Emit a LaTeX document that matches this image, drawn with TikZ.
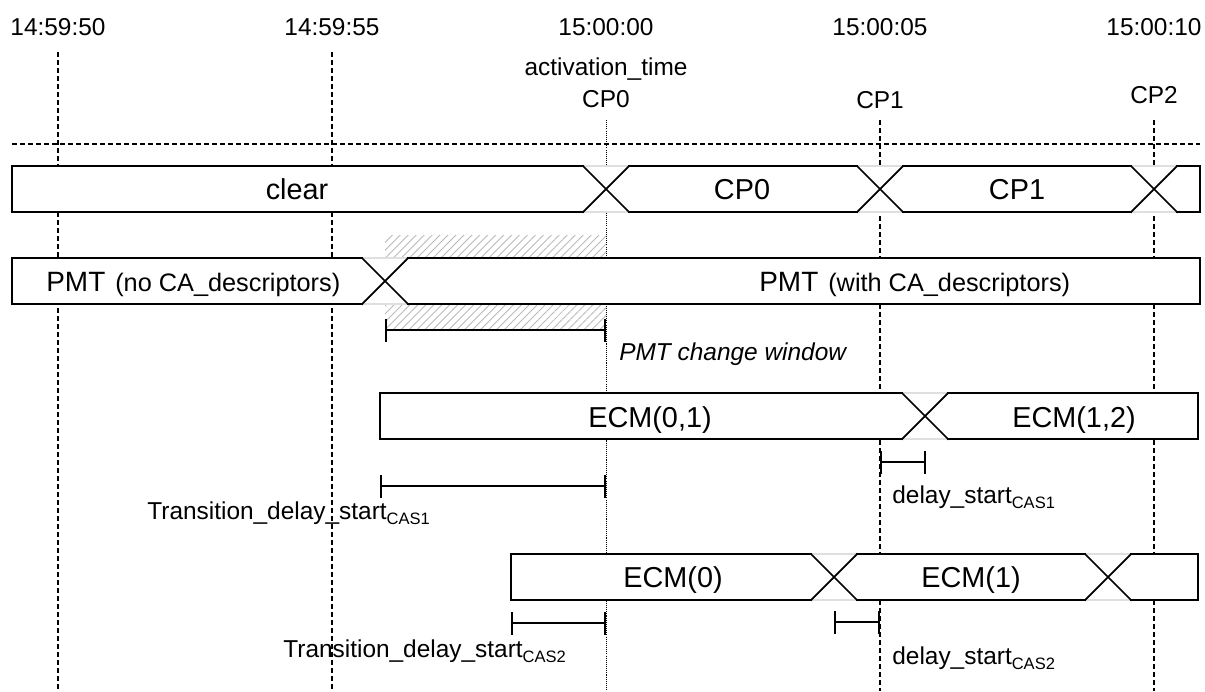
\documentclass[tikz,border=0pt]{standalone}
\usepackage{fontspec}
\setmainfont{Liberation Sans}
\usetikzlibrary{arrows.meta, patterns.meta}
\definecolor{hatch}{RGB}{185,185,185}

\tikzset{
  sig/.style={line width=1pt, line cap=rect},
  vgrid/.style={line width=0.6pt, dash pattern=on 0.1cm off 0.06cm},
  vdot/.style={line width=0.4pt, dash pattern=on 0.6pt off 0.6pt},
  lbl/.style={font=\fontsize{13.9}{16}\selectfont, inner sep=0pt},
  rowlbl/.style={font=\fontsize{16.4}{19}\selectfont, inner sep=0pt, anchor=base},
  pmtlbl/.style={font=\fontsize{15.9}{18}\selectfont, inner sep=0pt, anchor=base west},
  spanbar/.style={line width=0.9pt, {Bar[width=0.46cm]}-{Bar[width=0.46cm]}},
  hatched/.style={pattern={Lines[angle=45, distance=3.2pt, line width=0.5pt]}, pattern color=hatch}
}

\newcommand{\sigrow}[4]{%
  \pgfmathsetmacro{\rb}{#3+46}
  \filldraw[fill=white, draw=gray!25, line width=0.6pt] (#1,#3) rectangle (#2,\rb);
  \foreach \cx [remember=\cx as \lastcx (initially #1)] in {#4,#2}{
    \pgfmathsetmacro{\sa}{\lastcx==#1 ? \lastcx : \lastcx+23}
    \pgfmathsetmacro{\sb}{\cx==#2 ? \cx : \cx-23}
    \draw[sig] (\sa,#3) -- (\sb,#3) (\sa,\rb) -- (\sb,\rb);
  }
  \foreach \cx in {#4}
    \draw[sig] (\cx-23,#3) -- (\cx+23,\rb) (\cx-23,\rb) -- (\cx+23,#3);
  \draw[sig] (#1,#3) -- (#1,\rb) (#2,#3) -- (#2,\rb);
}
\newcommand{\cas}[1]{\raisebox{-0.11cm}{\fontsize{9.4}{11}\selectfont CAS#1}}

\begin{document}
\begin{tikzpicture}[x=0.02cm, y=-0.02cm]
  \useasboundingbox (0,0) rectangle (1205,691);

  \foreach \t [count=\i from 0] in {14:59:50,14:59:55,15:00:00,15:00:05,15:00:10}
    \node[lbl, anchor=base] (t\i) at (58+274*\i,35) {\t};
  \foreach \i/\s in {0/52,1/52,3/120,4/120}
    \draw[vgrid] (58+274*\i,\s) -- (58+274*\i,691);
  \draw[vdot] (606,120) -- (606,691);
  \draw[vgrid] (12,144) -- (1200,144);

  \node[lbl, anchor=base] (act) at (606,75) {activation\_time};
  \node[lbl, anchor=base] (cp0) at (606,107) {CP0};
  \node[lbl, anchor=base] (cp1) at (880,108) {CP1};
  \node[lbl, anchor=base] (cp2) at (1154,103) {CP2};

  \fill[hatched] (385,235) rectangle (606,258);
  \fill[hatched] (385,304) rectangle (606,328);

  \sigrow{12}{1200}{166}{606,880,1154}
  \sigrow{12}{1200}{258}{385}
  \sigrow{380}{1198}{393}{925}
  \sigrow{511}{1198}{554}{834,1108}

  \node[rowlbl] (clr) at (297,199.5) {clear};
  \node[rowlbl] (sa) at (742,199.5) {CP0};
  \node[rowlbl] (sb) at (1017,199.5) {CP1};
  \node[pmtlbl] (pmta) at (46,291.5) {PMT\hspace{0.2cm}{\fontsize{14.4}{16}\selectfont(no CA\_descriptors)}};
  \node[pmtlbl] (pmtb) at (759,291.5) {PMT\hspace{0.2cm}{\fontsize{14.4}{16}\selectfont(with CA\_descriptors)}};
  \node[rowlbl] (ea) at (650,427) {ECM(0,1)};
  \node[rowlbl] (eb) at (1074,427) {ECM(1,2)};
  \node[rowlbl] (ec) at (673,587.5) {ECM(0)};
  \node[rowlbl] (ed) at (971,587.5) {ECM(1)};

  \coordinate (pw0) at (385,330);
  \coordinate (pw1) at (606,330);
  \draw[spanbar] (pw0) -- (pw1);
  \node[lbl, anchor=base west, font=\fontsize{13.9}{16}\selectfont\itshape] (pwl) at (619,360) {PMT change window};

  \coordinate (ta0) at (380,486);
  \coordinate (ta1) at (606,486);
  \draw[spanbar] (ta0) -- (ta1);
  \node[lbl, anchor=base west] (tal) at (147,519) {Transition\_delay\_start\cas{1}};
  \coordinate (tb0) at (511,623);
  \coordinate (tb1) at (606,623);
  \draw[spanbar] (tb0) -- (tb1);
  \node[lbl, anchor=base west] (tbl) at (283,657) {Transition\_delay\_start\cas{2}};

  \coordinate (da0) at (880,462);
  \coordinate (da1) at (926,462);
  \draw[spanbar] (da0) -- (da1);
  \node[lbl, anchor=base west] (dal) at (892,503) {delay\_start\cas{1}};
  \coordinate (db0) at (834,622);
  \coordinate (db1) at (880,622);
  \draw[spanbar] (db0) -- (db1);
  \node[lbl, anchor=base west] (dbl) at (892,664) {delay\_start\cas{2}};
\end{tikzpicture}
\end{document}
